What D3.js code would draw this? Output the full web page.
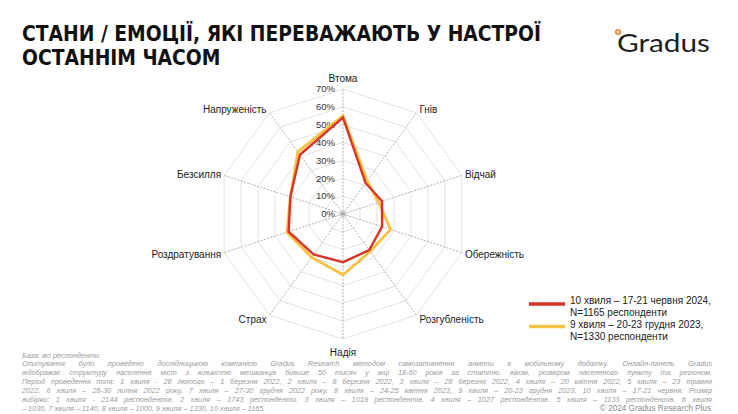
<!DOCTYPE html>
<html>
<head>
<meta charset="utf-8">
<script src="https://cdn.jsdelivr.net/npm/d3@7"></script>
<style>
  html, body { margin: 0; padding: 0; background: #fff; }
  svg { display: block; }
</style>
</head>
<body>
<svg id="chart" width="738" height="414"></svg>
<script>
// ---------- DATA ----------
const categories = ["Втома","Гнів","Відчай","Обережність","Розгубленість","Надія","Страх","Роздратування","Безсилля","Напруженість"];
const wave10 = [54, 21.5, 23, 23, 25, 27, 28, 32, 31, 41];   // 10 хвиля – червень 2024
const wave9  = [55, 23, 21, 28, 26, 34, 30, 33, 31, 43];     // 9 хвиля – грудень 2023
const tickValues = [0, 10, 20, 30, 40, 50, 60, 70];
const tickLabels = ["0%","10%","20%","30%","40%","50%","60%","70%"];
const seriesNames = [
  ["10 хвиля – 17-21 червня 2024,", "N=1165 респонденти"],
  ["9 хвиля – 20-23 грудня 2023,", "N=1330 респонденти"]
];
const titleLines = ["СТАНИ / ЕМОЦІЇ, ЯКІ ПЕРЕВАЖАЮТЬ У НАСТРОЇ", "ОСТАННІМ ЧАСОМ"];
const baseNote = "База: всі респонденти";
const noteLines = [
  "Опитування було проведено дослідницькою компанією Gradus Research методом самозаповнення анкети в мобільному додатку. Онлайн-панель Gradus",
  "відображає структуру населення міст з кількістю мешканців більше 50 тисяч у віці 18-60 років за статтю, віком, розміром населеного пункту та регіоном.",
  "Період проведення поля: 1 хвиля - 28 лютого – 1 березня 2022, 2 хвиля – 8 березня 2022, 3 хвиля – 28 березня 2022, 4 хвиля – 20 квітня 2022, 5 хвиля – 23 травня",
  "2022, 6 хвиля – 28-30 липня 2022 року, 7 хвиля – 27-30 грудня 2022 року, 8 хвиля – 24-25 квітня 2023, 9 хвиля – 20-23 грудня 2023, 10 хвиля – 17-21 червня. Розмір",
  "вибірки: 1 хвиля - 2144 респондентів. 2 хвиля – 1743 респонденти. 3 хвиля – 1019 респондентів. 4 хвиля – 1027 респондентів. 5 хвиля – 1133 респондентів. 6 хвиля",
  "– 1030, 7 хвиля – 1140, 8 хвиля – 1000, 9 хвиля – 1330, 10 хвиля – 1165."
];
const copyright = "© 2024 Gradus Research Plus";

// ---------- SETUP ----------
const svg = d3.select("#chart");
const FONT = "'Liberation Sans', Arial, sans-serif";
const cx = 343, cy = 214, R = 125;
const red = "#d8352a", yellow = "#f5c243";

const r = d3.scaleLinear().domain([0, 70]).range([0, R]);
const step = 2 * Math.PI / categories.length;
const ang = i => i * step;

// ---------- TITLE ----------
const tg = svg.append("g");
const titleFont = "'Liberation Sans Narrow', 'Arial Narrow', 'DejaVu Sans Condensed', sans-serif";
const t1 = tg.append("text").attr("x", 22).attr("y", 41)
  .attr("font-family", titleFont).attr("font-weight", 700).attr("font-size", 21)
  .attr("fill", "#111").text(titleLines[0]);
const t2 = tg.append("text").attr("x", 22).attr("y", 65)
  .attr("font-family", titleFont).attr("font-weight", 700).attr("font-size", 21)
  .attr("fill", "#111").text(titleLines[1]);
const w1 = t1.node().getComputedTextLength();
const w2 = t2.node().getComputedTextLength();
const ratio = 519 / w1;
t1.attr("textLength", 519).attr("lengthAdjust", "spacingAndGlyphs");
t2.attr("textLength", w2 * ratio).attr("lengthAdjust", "spacingAndGlyphs");

// ---------- LOGO ----------
svg.append("text").attr("x", 617).attr("y", 52)
  .attr("font-family", "Lato, 'Noto Sans', sans-serif").attr("font-size", 25)
  .attr("fill", "#1d1d1d").attr("textLength", 93).attr("lengthAdjust", "spacingAndGlyphs")
  .text("Gradus");
svg.append("circle").attr("cx", 618).attr("cy", 32).attr("r", 2.2)
  .attr("fill", "none").attr("stroke", "#ec7a2c").attr("stroke-width", 1.6);

// ---------- GRID ----------
const grid = svg.append("g");
const ringLine = d3.lineRadial().angle((d, i) => ang(i)).radius(d => d).curve(d3.curveLinearClosed);
tickValues.filter(v => v > 0).forEach(v => {
  grid.append("path")
    .attr("transform", `translate(${cx},${cy})`)
    .attr("d", ringLine(categories.map(() => r(v))))
    .attr("fill", "none").attr("stroke", "#dadada").attr("stroke-width", 0.8);
});
categories.forEach((c, i) => {
  const a = ang(i);
  grid.append("line")
    .attr("x1", cx).attr("y1", cy)
    .attr("x2", cx + R * Math.sin(a)).attr("y2", cy - R * Math.cos(a))
    .attr("stroke", "#9c9c9c").attr("stroke-width", 0.8).attr("stroke-dasharray", "2,1.4");
});
grid.append("circle").attr("cx", cx).attr("cy", cy).attr("r", 2.6)
  .attr("fill", "none").attr("stroke", "#aaa").attr("stroke-width", 0.8);

// ---------- TICK LABELS ----------
svg.append("g").selectAll("text").data(tickValues).join("text")
  .attr("x", cx - 8).attr("y", d => cy - r(d))
  .attr("dy", "0.35em").attr("text-anchor", "end")
  .attr("font-family", FONT).attr("font-size", 9.5).attr("fill", "#333")
  .text((d, i) => tickLabels[i]);

// ---------- CATEGORY LABELS ----------
svg.append("g").selectAll("text").data(categories).join("text")
  .each(function(d, i) {
    const a = ang(i), s = Math.sin(a), c = Math.cos(a);
    const px = cx + R * s, py = cy - R * c;
    const el = d3.select(this);
    let x = px, y = py, anchor = "middle";
    if (Math.abs(s) < 0.01) {
      y = c > 0 ? py - 11 : py + 13;
    } else {
      anchor = s > 0 ? "start" : "end";
      x = px + (s > 0 ? 3 : -3);
      y = py - c * 5 + 0.5;
    }
    el.attr("x", x).attr("y", y).attr("dy", "0.35em").attr("text-anchor", anchor);
  })
  .attr("font-family", FONT).attr("font-size", 10).attr("fill", "#1a1a1a")
  .text(d => d);

// ---------- SERIES ----------
const radial = d3.lineRadial()
  .angle((d, i) => ang(i))
  .radius(d => r(d))
  .curve(d3.curveLinearClosed);
const sg = svg.append("g").attr("transform", `translate(${cx},${cy})`);
sg.append("path").attr("d", radial(wave9))
  .attr("fill", "none").attr("stroke", yellow).attr("stroke-width", 2.8).attr("stroke-linejoin", "miter");
sg.append("path").attr("d", radial(wave10))
  .attr("fill", "none").attr("stroke", red).attr("stroke-width", 2.4).attr("stroke-linejoin", "miter");

// ---------- LEGEND ----------
const lg = svg.append("g");
const legendY = [[304, 300.5, 312.5], [326.5, 324, 336.5]];
[red, yellow].forEach((col, k) => {
  lg.append("line").attr("x1", 529).attr("x2", 565)
    .attr("y1", legendY[k][0]).attr("y2", legendY[k][0])
    .attr("stroke", col).attr("stroke-width", 3.5);
  seriesNames[k].forEach((ln, j) => {
    lg.append("text").attr("x", 570).attr("y", legendY[k][1 + j]).attr("dy", "0.35em")
      .attr("font-family", FONT).attr("font-size", 10).attr("fill", "#1a1a1a").text(ln);
  });
});

// ---------- FOOTNOTE ----------
const fg = svg.append("g").attr("font-family", FONT).attr("font-style", "italic")
  .attr("font-size", 7.3).attr("fill", "#9a9a9a");
const lineGap = 8.85;
fg.append("text").attr("x", 22).attr("y", 357.5).text(baseNote);
noteLines.forEach((ln, i) => {
  const t = fg.append("text").attr("x", 22).attr("y", 357.5 + lineGap * (i + 1)).text(ln);
  if (i < noteLines.length - 1) {
    const w = t.node().getComputedTextLength();
    const spaces = (ln.match(/ /g) || []).length;
    const target = 712 - 22;
    if (spaces > 0 && w < target) t.attr("word-spacing", (target - w) / spaces);
  }
});
svg.append("text").attr("x", 711).attr("y", 357.5 + lineGap * 6)
  .attr("text-anchor", "end").attr("font-family", FONT).attr("font-size", 8.2)
  .attr("fill", "#8a8a8a").text(copyright);
</script>
</body>
</html>
